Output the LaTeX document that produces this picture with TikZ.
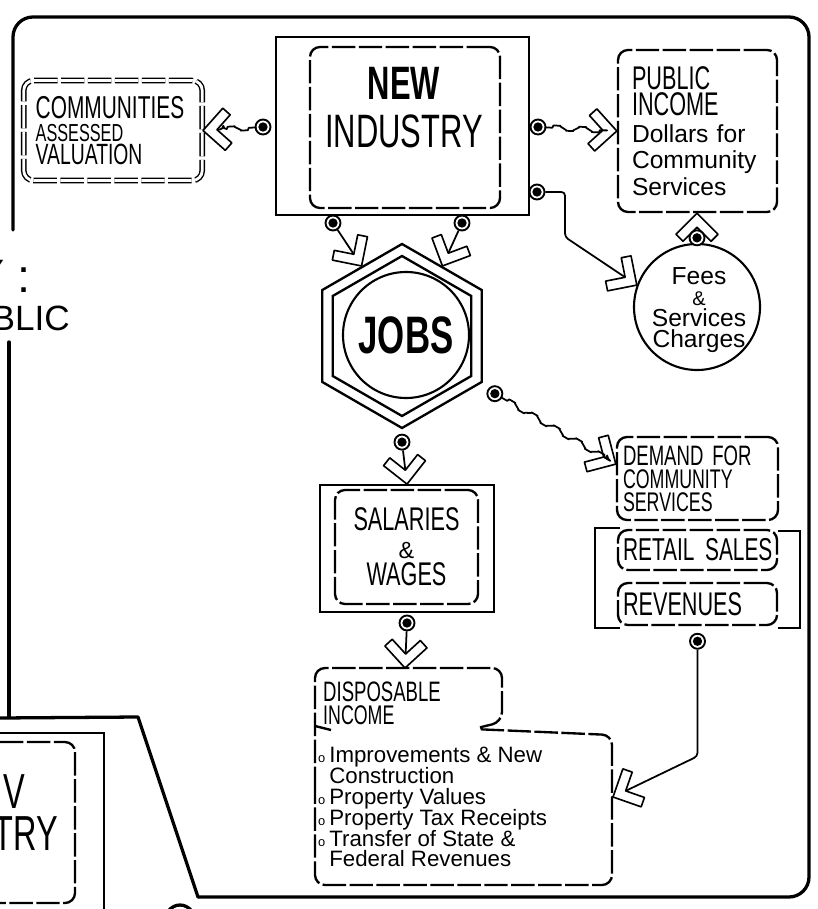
\documentclass[tikz,border=0pt]{standalone}
\usepackage{fontspec}
\usepackage{tikz}
\usetikzlibrary{positioning, arrows.meta, shapes.geometric, decorations.pathmorphing}
\setmainfont{Liberation Sans}
\newfontfamily\letterfont[FakeStretch=0.66]{Liberation Sans}
\newcommand{\tight}{\lineskiplimit=-100pt\lineskip=0pt\hyphenpenalty=10000\relax}
\newcommand{\letters}[2]{{\letterfont\fontsize{#1}{#1}\selectfont #2}}
\newcommand{\notes}[2]{{\fontsize{#1}{#1}\selectfont #2}}
\newcommand{\bul}{\makebox[0.5em][l]{\fontsize{11}{11}\selectfont o}}

\pgfdeclarearrow{
  name = Chev,
  setup code = {
    \pgfarrowssettipend{0pt}
    \pgfarrowssetlineend{-12pt}
    \pgfarrowssetbackend{-24pt}
    \pgfarrowshullpoint{0pt}{0pt}
    \pgfarrowsupperhullpoint{-18pt}{18pt}
    \pgfarrowsupperhullpoint{-24pt}{12pt}
  },
  drawing code = {
    \pgfsetlinewidth{1.4pt}
    \pgfsetroundjoin
    \pgfpathmoveto{\pgfpointorigin}
    \pgfpathlineto{\pgfqpoint{-18pt}{18pt}}
    \pgfpathlineto{\pgfqpoint{-24pt}{12pt}}
    \pgfpathlineto{\pgfqpoint{-12pt}{0pt}}
    \pgfpathlineto{\pgfqpoint{-24pt}{-12pt}}
    \pgfpathlineto{\pgfqpoint{-18pt}{-18pt}}
    \pgfpathclose
    \pgfusepathqstroke
  }
}

\begin{document}
\begin{tikzpicture}[x=0.03cm, y=-0.03cm,
    frame/.style={line width=2.8pt, line join=round, line cap=round},
    solidbox/.style={draw, line width=1.5pt, inner sep=0pt},
    dashbox/.style={draw, line width=2pt, rounded corners=0.3cm, dash pattern=on 20pt off 3pt, inner ysep=1pt},
    twinbox/.style={dashbox, double, double distance=2.4pt, line width=1.2pt},
    tagbox/.style={dashbox, minimum width=4.77cm, text width=4.47cm, inner xsep=0.15cm, align=left},
    dashline/.style={line width=2pt, rounded corners=0.3cm, dash pattern=on 20pt off 3pt},
    hexa/.style={draw, regular polygon, regular polygon sides=6, shape border rotate=30, line width=2pt},
    disc/.style={circle, draw, line width=1.8pt, inner sep=0pt},
    plug/.style={circle, draw, line width=1.6pt, fill=white, minimum size=0.45cm, inner sep=0pt, path picture={\fill[black] (path picture bounding box.center) circle (0.14cm);}},
    link/.style={draw, line width=1.5pt, line join=round, rounded corners=3pt, -Chev},
    wavy/.style={link, decorate, decoration={snake, amplitude=2pt, segment length=22pt, pre length=2pt, post length=8pt}},
    textin/.style={inner sep=0pt, align=center}
]

\path[use as bounding box, fill=white] (0,0) rectangle (817,909);

\draw[frame, rounded corners=0.6cm] (13,230) -- (13,17) -- (809,17) -- (809,897) -- (198,897);
\draw[frame] (198,897) -- (138,717) -- (0,718);
\draw[frame] (9,342) -- (9,717);

\node[anchor=base east, inner sep=0pt, font=\fontsize{40}{40}\selectfont] (headend) at (31,292) {Y :};
\node[anchor=base east, inner sep=0pt, font=\fontsize{30}{30}\selectfont] (headsub) at (70,330) {BLIC};

\draw[line width=1.5pt] (0,733) -- (104,733) -- (104,915);
\draw[dashline] (0,742) -- (75,742) -- (75,903) -- (0,903);
\node[anchor=base east, inner sep=0pt, font=\letterfont\fontsize{42}{42}\selectfont] (oldnew) at (25,808) {V};
\node[anchor=base east, inner sep=0pt, font=\letterfont\fontsize{42}{42}\selectfont] (oldind) at (58,850) {TRY};
\draw[frame] (180,924) ellipse [x radius=16, y radius=19];

\node[solidbox, minimum width=7.59cm, minimum height=5.34cm] (ni) at (402.5,126) {};
\node[dashbox, minimum width=5.7cm, minimum height=4.83cm] (niin) at (405,127.5) {};
\node[textin, font=\fontsize{40}{41}\selectfont\tight] (nitxt) at (404,108) {\letters{40}{\bfseries NEW}\\\letters{40}{INDUSTRY}};

\node[twinbox, minimum width=5.355cm, minimum height=3cm, text width=4.635cm, inner xsep=0.36cm, align=left, font=\fontsize{26}{19.5}\selectfont\tight] (comm) at (113,130.5) {\noindent\letters{27}{COMMUNITIES}\\\letters{21}{ASSESSED}\\\letters{25}{VALUATION}};

\node[dashbox, minimum width=4.77cm, minimum height=4.86cm, text width=3.93cm, inner xsep=0.42cm, align=left, font=\fontsize{21}{22.5}\selectfont\tight] (pub) at (697.5,131) {\noindent\letters{28}{PUBLIC}\\\letters{28}{INCOME}\\Dollars for\\Community\\Services};

\node[disc, minimum size=3.78cm] (fees) at (697,307) {};
\node[textin, font=\fontsize{21}{18}\selectfont\tight] (feestxt) at (699,310) {Fees\\\notes{17}{\&}\\Services\\Charges};

\node[hexa, minimum size=5.52cm] (jobs) at (402,336) {};
\node[hexa, minimum size=4.8cm] (jobsin) at (402,336) {};
\node[disc, minimum size=3.78cm, font=\letterfont\bfseries\fontsize{45}{45}\selectfont] (jobsc) at (406,335) {JOBS};

\node[dashbox, minimum width=4.83cm, minimum height=2.49cm, text width=4.47cm, inner xsep=0.18cm, align=left, font=\fontsize{23}{19.5}\selectfont\tight] (demand) at (697.5,478.5) {\noindent\letters{24}{DEMAND~FOR}\\\letters{23}{COMMUNITY}\\\letters{23}{SERVICES}};

\node[tagbox, minimum height=1.2cm, font=\fontsize{27}{27}\selectfont\tight] (retail) at (697.5,550) {\noindent\letters{27}{RETAIL~SALES}};
\node[tagbox, minimum height=1.26cm, font=\fontsize{28}{28}\selectfont\tight] (revenue) at (697.5,604) {\noindent\letters{28}{REVENUES}};
\draw[line width=1.5pt] (620,528) -- (595,528) -- (595,628) -- (620,628);
\draw[line width=1.5pt] (778,531) -- (800,531) -- (800,628) -- (778,628);

\node[solidbox, minimum width=5.22cm, minimum height=3.81cm] (salout) at (407,548.5) {};
\node[dashbox, minimum width=4.29cm, minimum height=3.42cm, align=center, font=\fontsize{28}{23.5}\selectfont\tight] (sal) at (406.5,547) {\letters{28}{SALARIES}\\\notes{20}{\&}\\\letters{28}{WAGES}};

\draw[dashline] (315,800) -- (315,668) -- (502,668) -- (502,722) -- (473,729) -- (612,735) -- (612,885) -- (315,885) -- cycle;
\draw[line width=2pt] (315,726) -- (331,730);
\coordinate (disptop) at (405,668);
\coordinate (dispside) at (613,797);
\node[anchor=north west, inner sep=0pt, align=left, font=\fontsize{23}{19}\selectfont\tight] (disphead) at (323,682) {\letters{24}{DISPOSABLE}\\\letters{23}{INCOME}};
\node[anchor=north west, inner sep=0pt, align=left, font=\fontsize{19}{17.8}\selectfont\tight] (displist) at (318,747) {\bul Improvements \& New\\\phantom{\bul}Construction\\\bul Property Values\\\bul Property Tax Receipts\\\bul Transfer of State \&\\\phantom{\bul}Federal Revenues};

\node[plug] (plugC) at (263,127) {};
\node[plug] (plugP1) at (538,127) {};
\node[plug] (plugP2) at (537,192) {};
\node[plug] (plugJ1) at (333,223) {};
\node[plug] (plugJ2) at (462,223) {};
\node[plug, below=0.13cm of jobs] (plugJ3) {};
\node[plug] (plugJ4) at ([shift={(12,11)}]jobs.330) {};
\node[plug, above=-0.1cm of fees] (plugF) {};
\node[plug, below=0.05cm of salout] (plugS) {};
\node[plug, below=0.2cm of revenue] (plugR) {};

\draw[wavy] (plugC) -- (comm.east);
\draw[wavy] (plugP1) -- (pub.west);
\draw[link] (plugP2) -- ++(28,0) -- ++(0,45) -- (fees.160);
\draw[link] (plugF) -- (plugF |- pub.south);
\draw[link] (plugJ1) -- (jobs.120);
\draw[link] (plugJ2) -- (jobs.60);
\draw[link] (plugJ3) -- (salout.north);
\draw[wavy] (plugJ4) -- (demand.170);
\draw[link] (plugS) -- (disptop);
\draw[link] (plugR) -- ++(0,115) -- (dispside);

\end{tikzpicture}
\end{document}
